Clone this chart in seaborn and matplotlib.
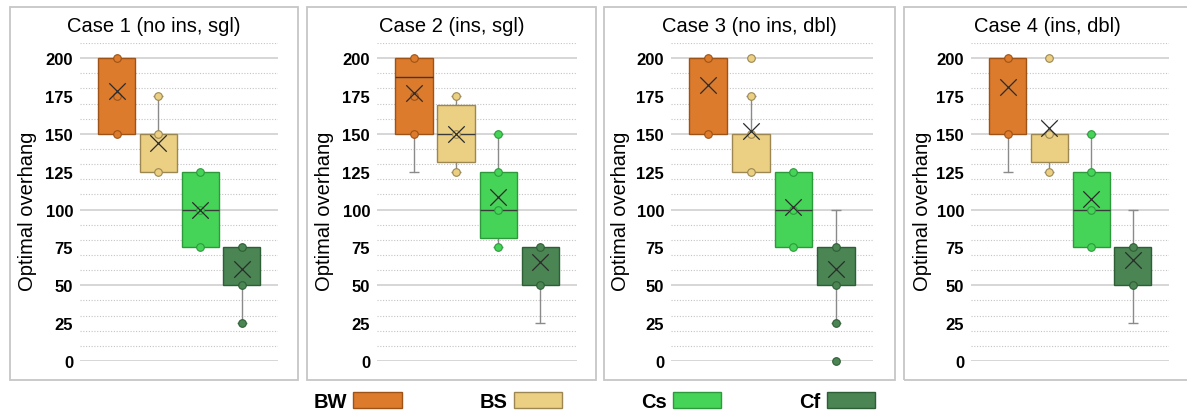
import seaborn as sns
import matplotlib.pyplot as plt
from matplotlib.patches import Rectangle, Patch

# 資料
series = ["BW", "BS", "Cs", "Cf"]
cases = ["Case 1 (no ins, sgl)", "Case 2 (ins, sgl)", "Case 3 (no ins, dbl)", "Case 4 (ins, dbl)"]
colors = ["#DD7B2C", "#EBCF82", "#45D458", "#4A8553"]
edges = ["#9E5216", "#9C8752", "#2C9A3B", "#2E5E35"]

# box stats per case (order BW, BS, Cs, Cf)
q1 = [[150, 125, 75, 50], [150, 131.25, 81.25, 50], [150, 125, 75, 50], [150, 131.25, 75, 50]]
median = [[200, 150, 100, 50], [187.5, 150, 100, 50], [200, 150, 100, 50], [200, 150, 100, 50]]
q3 = [[200, 150, 125, 75], [200, 168.75, 125, 75], [200, 150, 125, 75], [200, 150, 125, 75]]
whis_lo = [[150, 125, 75, 25], [125, 125, 75, 25], [150, 125, 75, 25], [125, 125, 75, 25]]
whis_hi = [[200, 175, 125, 75], [200, 175, 150, 75], [200, 175, 125, 100], [200, 150, 150, 100]]
means = [[178.5, 144, 100, 61], [177, 150, 108, 65.5], [182.5, 152, 102, 61], [181, 154, 107, 66.5]]
points = [
    [[150, 175, 200], [125, 150, 175], [75, 100, 125], [25, 50, 75]],
    [[150, 175, 200], [125, 150, 175], [75, 100, 125, 150], [50, 75]],
    [[150, 200], [125, 150, 175, 200], [75, 100, 125], [0, 25, 50, 75]],
    [[150, 200], [125, 150, 200], [75, 100, 125, 150], [50, 75]],
]

# 版面 (pixels)
W, H = 1187, 414
axes_left = [80, 377, 671, 971]
axes_width = [198, 200, 202, 198]
panels = [(10, 298), (307, 596), (604, 895), (904, 1195)]
ylabel_x = [28, 325, 621, 922]

sns.set_theme(style="white")
plt.rcParams["font.family"] = ["Liberation Sans", "DejaVu Sans"]
plt.rcParams["text.color"] = "black"
plt.rcParams["ytick.color"] = "black"

fig = plt.figure(figsize=(W / 100, H / 100), dpi=100)

for i in range(4):
    ax = fig.add_axes([axes_left[i] / W, (H - 362) / H, axes_width[i] / W, 318 / H])

    # grid
    for v in range(0, 201, 50):
        ax.axhline(v, color="#d6d6d6", lw=1.4, zorder=0)
    minor = [v for v in range(10, 211, 10) if v % 50 != 0]
    ax.set_yticks(minor, minor=True)
    ax.yaxis.grid(True, which="minor", color="#c4c4c4", ls=(0, (1, 1.5)), lw=0.8)
    ax.set_axisbelow(True)

    stats = []
    for j in range(4):
        stats.append(dict(q1=q1[i][j], med=median[i][j], q3=q3[i][j],
                          whislo=whis_lo[i][j], whishi=whis_hi[i][j], fliers=[]))
    bp = ax.bxp(stats, positions=range(4), widths=0.89, patch_artist=True,
                showfliers=False, showcaps=False,
                medianprops=dict(color="#3a3a3a", lw=1),
                whiskerprops=dict(color="#8a8a8a", lw=1))
    for j, box in enumerate(bp["boxes"]):
        box.set_facecolor(colors[j])
        box.set_edgecolor(edges[j])
        box.set_linewidth(1)
        box.set_zorder(2)
    for j, ml in enumerate(bp["medians"]):
        ml.set_zorder(2.5)
        if median[i][j] in (q1[i][j], q3[i][j]):
            ml.set_visible(False)
    for wl in bp["whiskers"]:
        wl.set_zorder(1.5)

    # caps only where the whisker sticks out
    for j in range(4):
        if whis_lo[i][j] < q1[i][j]:
            ax.hlines(whis_lo[i][j], j - 0.12, j + 0.12, color="#8a8a8a", lw=1, zorder=1.5)
        if whis_hi[i][j] > q3[i][j]:
            ax.hlines(whis_hi[i][j], j - 0.12, j + 0.12, color="#8a8a8a", lw=1, zorder=1.5)

    # 資料點
    for j in range(4):
        pts = points[i][j]
        sns.scatterplot(x=[j] * len(pts), y=pts, ax=ax, color=colors[j], edgecolor=edges[j],
                        s=30, linewidth=0.8, zorder=4, clip_on=False, legend=False)

    # 平均值
    sns.scatterplot(x=list(range(4)), y=means[i], ax=ax, marker="x", color="#2b2b2b",
                    edgecolor="#2b2b2b", s=140, linewidth=0.9, zorder=5, legend=False)

    ax.set_xlim(-0.88, 3.87)
    ax.set_ylim(0, 210)
    ax.set_yticks(range(0, 201, 25))
    ax.set_xticks([])
    ax.tick_params(axis="y", which="both", length=0, pad=5, labelsize=12, labelcolor="black")
    for lbl in ax.get_yticklabels():
        lbl.set_fontweight("bold")
    ax.set_xlabel("")
    ax.set_ylabel("")
    for s in ax.spines.values():
        s.set_visible(False)

    # 外框, 標題, y 軸標籤
    x0, x1 = panels[i]
    fig.add_artist(Rectangle((x0 / W, 1 - 381 / H), (x1 - x0) / W, 373 / H,
                             transform=fig.transFigure, fill=False, ec="#c6c6c6", lw=1.3))
    fig.text((x0 + min(x1, W + 4)) / 2 / W, 1 - 26 / H, cases[i], ha="center", va="center",
             fontsize=14.5, color="black")
    fig.text(ylabel_x[i] / W, 1 - 211 / H, "Optimal overhang", rotation=90,
             ha="center", va="center", fontsize=14.5, color="black")

# 圖例
handles = [Patch(facecolor=colors[j], edgecolor=edges[j], lw=1) for j in range(4)]
leg = fig.legend(handles, series, loc="center", bbox_to_anchor=(0.5008, 0.028), ncol=4,
                 markerfirst=False, frameon=False, handlelength=2.4, handleheight=0.85,
                 handletextpad=0.3, columnspacing=3.9, prop=dict(size=14.5, weight="bold"),
                 borderpad=0, borderaxespad=0)
for t in leg.get_texts():
    t.set_color("black")

fig.savefig("out.png", dpi=100)
